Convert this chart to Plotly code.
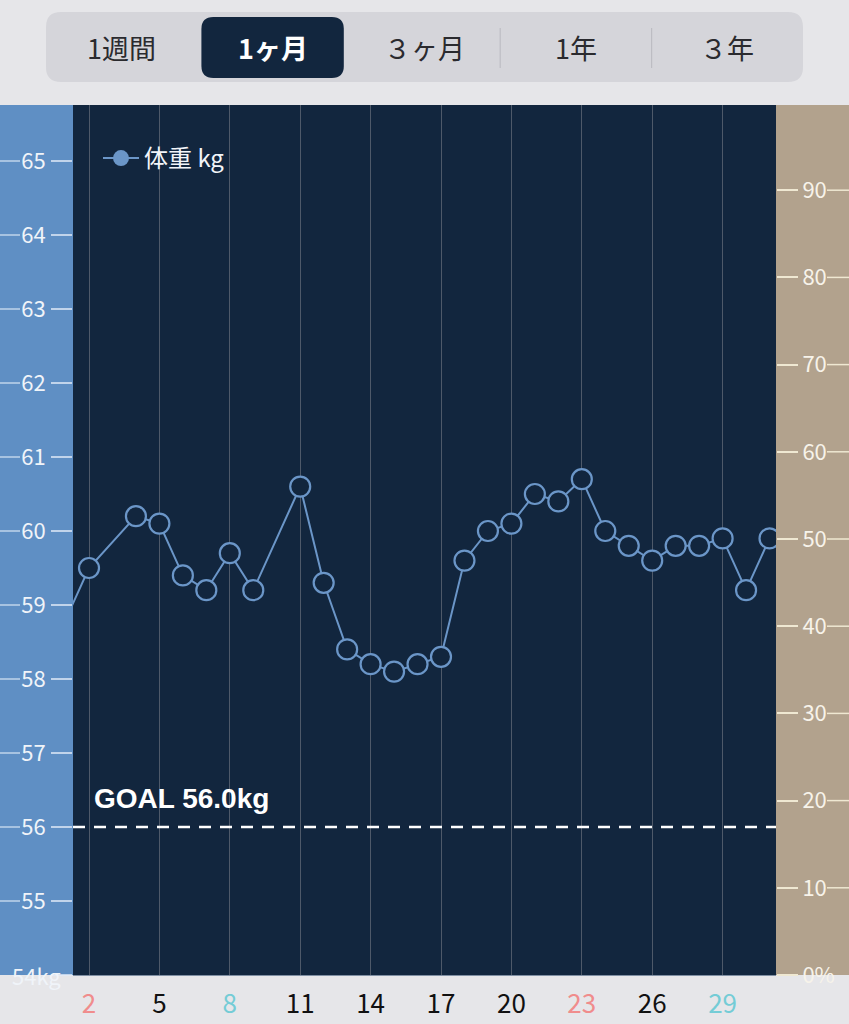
import plotly.graph_objects as go

# ---------------- data ----------------
days = [0, 2, 4, 5, 6, 7, 8, 9, 11, 12, 13, 14, 15, 16, 17, 18, 19, 20,
        21, 22, 23, 24, 25, 26, 27, 28, 29, 30, 31]
weights = [58.1, 59.5, 60.2, 60.1, 59.4, 59.2, 59.7, 59.2, 60.6, 59.3, 58.4,
           58.2, 58.1, 58.2, 58.3, 59.6, 60.0, 60.1, 60.5, 60.4, 60.7, 60.0,
           59.8, 59.6, 59.8, 59.8, 59.9, 59.2, 59.9]
GOAL = 56.0
series_name = "体重 kg"

x_ticks = [2, 5, 8, 11, 14, 17, 20, 23, 26, 29]
red_days = [2, 23]
cyan_days = [8, 29]

left_ticks = [54, 55, 56, 57, 58, 59, 60, 61, 62, 63, 64, 65]
left_text = ["54kg", "55", "56", "57", "58", "59", "60", "61", "62", "63", "64", "65"]
right_ticks = [0, 10, 20, 30, 40, 50, 60, 70, 80, 90]
right_text = ["0%", "10", "20", "30", "40", "50", "60", "70", "80", "90"]

segments = ["1週間", "1ヶ月", "３ヶ月", "1年", "３年"]
selected = 1

# ---------------- geometry / style ----------------
W, H = 849, 1024
L, R, T, B = 73, 776, 105, 975
FONT = "Noto Sans CJK JP, Noto Sans, sans-serif"
NAVY = "#12263e"
LINE = "#6b96c8"
BLUE_PANEL = "#5f8fc4"
TAN_PANEL = "#b2a28d"
BG = "#e6e6e9"
LEFT_LABEL = "#f0f4f9"


def px(X):
    return (X - L) / (R - L)


def py(Y):
    return (B - Y) / (B - T)


def rrect(x0, y0, x1, y1, r):
    pts = [("M", x0 + r, y0), ("L", x1 - r, y0), ("Q", x1, y0, x1, y0 + r),
           ("L", x1, y1 - r), ("Q", x1, y1, x1 - r, y1), ("L", x0 + r, y1),
           ("Q", x0, y1, x0, y1 - r), ("L", x0, y0 + r), ("Q", x0, y0, x0 + r, y0)]
    s = ""
    for p in pts:
        coords = p[1:]
        parts = [f"{px(coords[i]):.5f},{py(coords[i+1]):.5f}" for i in range(0, len(coords), 2)]
        s += p[0] + " " + " ".join(parts) + " "
    return s + "Z"


def tick_label(d):
    if d in red_days:
        return f"<span style='color:#f08c8c'>{d}</span>"
    if d in cyan_days:
        return f"<span style='color:#74ccd6'>{d}</span>"
    return str(d)


fig = go.Figure()

fig.add_trace(go.Scatter(
    x=days, y=weights, mode="lines+markers", name=series_name,
    line=dict(color=LINE, width=2),
    marker=dict(size=20, color=NAVY, line=dict(color=LINE, width=2.2)),
    showlegend=False, cliponaxis=True,
))
# legend entry (filled marker)
fig.add_trace(go.Scatter(
    x=[None], y=[None], mode="lines+markers", name=series_name,
    line=dict(color=LINE, width=2),
    marker=dict(size=17, color=LINE),
))
# anchor trace for right axis
fig.add_trace(go.Scatter(x=[None], y=[None], yaxis="y2", showlegend=False,
                         hoverinfo="skip"))

y_top = 54 + (B - T) / 74.0
y2_top = (B - T) / 8.72
day_px = 70.4 / 3
x_lo = 2 - (89 - L) / day_px
x_hi = x_lo + (R - L) / day_px

shapes = []
# side panels
shapes.append(dict(type="rect", xref="paper", yref="paper", x0=px(0), x1=0,
                   y0=0, y1=1, fillcolor=BLUE_PANEL, line_width=0, layer="below"))
shapes.append(dict(type="rect", xref="paper", yref="paper", x0=1, x1=px(W),
                   y0=0, y1=1, fillcolor=TAN_PANEL, line_width=0, layer="below"))
# decorative outer tick segments
for v in left_ticks[1:]:
    shapes.append(dict(type="line", xref="paper", yref="y", x0=px(0), x1=px(20),
                       y0=v, y1=v, line=dict(color="rgba(225,235,248,0.75)", width=1.5)))
for v in right_ticks[1:]:
    shapes.append(dict(type="line", xref="paper", yref="y2", x0=px(827), x1=px(W),
                       y0=v, y1=v, line=dict(color="#efe8d2", width=1.5)))
# goal line
shapes.append(dict(type="line", xref="paper", yref="y", x0=0, x1=1, y0=GOAL, y1=GOAL,
                   line=dict(color="white", width=2.5, dash="12px,9px")))
# segmented control
shapes.append(dict(type="path", xref="paper", yref="paper",
                   path=rrect(46, 12, 803, 82, 15), fillcolor="#d5d5da", line_width=0))
seg_w = (803 - 46) / len(segments)
sel_x0 = 46 + seg_w * selected
shapes.append(dict(type="path", xref="paper", yref="paper",
                   path=rrect(sel_x0 + 4, 17, sel_x0 + seg_w - 5, 78, 12),
                   fillcolor=NAVY, line_width=0))
for i in range(len(segments) - 1):
    if i in (selected - 1, selected):
        continue
    xs = 46 + seg_w * (i + 1)
    shapes.append(dict(type="line", xref="paper", yref="paper", x0=px(xs), x1=px(xs),
                       y0=py(28), y1=py(68), line=dict(color="#bdbdc3", width=1.2)))

annotations = []
for i, s in enumerate(segments):
    cx = 46 + seg_w * (i + 0.5)
    annotations.append(dict(
        xref="paper", yref="paper", x=px(cx), y=py(47),
        text=s if i != selected else f"<b>{s}</b>",
        showarrow=False, xanchor="center", yanchor="middle",
        font=dict(family=FONT, size=27, color="white" if i == selected else "#2a2a2e")))
annotations.append(dict(
    xref="paper", yref="y", x=px(92), y=GOAL, yshift=11, xanchor="left", yanchor="bottom",
    text=f"<b>GOAL {GOAL:.1f}kg</b>", showarrow=False,
    font=dict(family="Liberation Sans, Arial, sans-serif", size=28, color="white")))
# bottom-most left label, centred in the panel like the reference
annotations.append(dict(
    xref="paper", yref="y", x=px(36), y=left_ticks[0], xanchor="center", yanchor="middle",
    text=left_text[0], showarrow=False,
    font=dict(family=FONT, size=22, color=LEFT_LABEL)))

fig.update_layout(
    width=W, height=H,
    margin=dict(l=L, r=W - R, t=T, b=H - B, pad=0, autoexpand=False),
    paper_bgcolor=BG, plot_bgcolor=NAVY,
    font=dict(family=FONT),
    showlegend=True,
    legend=dict(x=px(98), y=py(136), xanchor="left", yanchor="top",
                bgcolor="rgba(0,0,0,0)", font=dict(family=FONT, size=24, color="#f2f5f9"),
                itemwidth=36),
    xaxis=dict(range=[x_lo, x_hi], tickvals=x_ticks,
               ticktext=[tick_label(d) for d in x_ticks],
               showgrid=True, gridcolor="#4e5969", gridwidth=1, zeroline=False,
               showline=True, linecolor="#7f8fa3", linewidth=1, automargin=False,
               ticks="", tickfont=dict(family=FONT, size=26, color="#111111"),
               ticklabelstandoff=6, fixedrange=True),
    yaxis=dict(range=[54, y_top], tickvals=left_ticks, ticktext=[""] + left_text[1:],
               showgrid=False, zeroline=False, ticks="outside", ticklen=21,
               tickcolor="rgba(225,235,248,0.75)", tickwidth=1.5, automargin=False,
               tickfont=dict(family=FONT, size=22, color=LEFT_LABEL),
               ticklabelstandoff=1),
    yaxis2=dict(range=[0, y2_top], overlaying="y", side="right",
                tickvals=right_ticks, ticktext=right_text, automargin=False,
                showgrid=False, zeroline=False, ticks="outside", ticklen=21,
                tickcolor="#efe8d2", tickwidth=1.5,
                tickfont=dict(family=FONT, size=22, color="#f7f3ea"),
                ticklabelstandoff=0),
    shapes=shapes,
    annotations=annotations,
)

fig.write_html("out.html", config={"displayModeBar": False},
               post_script="document.body.style.margin='0';document.body.style.overflow='hidden';")
